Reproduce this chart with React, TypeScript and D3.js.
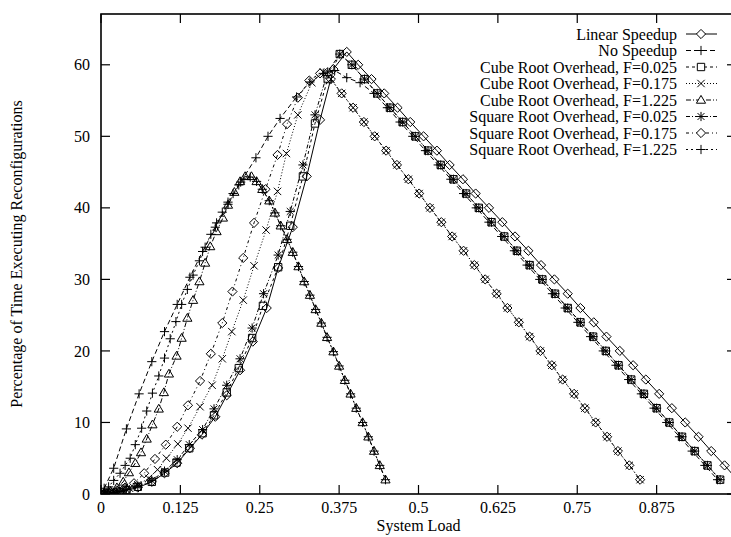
import React from "react";
import * as d3 from "d3";

// ---------- data ----------
const X_TICKS = [0, 0.125, 0.25, 0.375, 0.5, 0.625, 0.75, 0.875];
const X_TICK_LABELS = ["0", "0.125", "0.25", "0.375", "0.5", "0.625", "0.75", "0.875"];
const Y_TICKS = [0, 10, 20, 30, 40, 50, 60];
const Y_TICK_LABELS = ["0", "10", "20", "30", "40", "50", "60"];

const SERIES_NAMES = [
  "Linear Speedup",
  "No Speedup",
  "Cube Root Overhead, F=0.025",
  "Cube Root Overhead, F=0.175",
  "Cube Root Overhead, F=1.225",
  "Square Root Overhead, F=0.025",
  "Square Root Overhead, F=0.175",
  "Square Root Overhead, F=1.225",
];

// Linear Speedup
const linearSpeedup: [number, number][] = [
  [0.005, 0.02], [0.01, 0.05], [0.02, 0.15], [0.03, 0.3], [0.04, 0.5], [0.058, 0.9],
  [0.08, 1.7], [0.1, 2.9], [0.12, 4.3], [0.14, 6.4], [0.159, 8.3], [0.18, 10.8],
  [0.198, 13.8], [0.219, 17.3], [0.239, 21.3], [0.261, 26.0], [0.279, 31.6],
  [0.302, 37.3], [0.324, 44.4], [0.345, 52.3], [0.366, 59.4], [0.387, 61.8],
  [0.405, 60], [0.426, 58], [0.446, 56], [0.467, 54], [0.487, 52], [0.508, 50],
  [0.529, 48], [0.549, 46], [0.57, 44], [0.59, 42], [0.611, 40], [0.632, 38],
  [0.652, 36], [0.673, 34], [0.693, 32], [0.714, 30], [0.735, 28], [0.755, 26],
  [0.776, 24], [0.796, 22], [0.817, 20], [0.838, 18], [0.858, 16], [0.879, 14],
  [0.899, 12], [0.92, 10], [0.941, 8], [0.961, 6], [0.982, 4], [1.002, 2],
];

// No Speedup
const noSpeedup: [number, number][] = [
  [0.005, 0.8], [0.02, 3.6], [0.04, 9.1], [0.06, 14.0], [0.08, 18.5], [0.1, 22.7],
  [0.12, 26.5], [0.14, 30.3], [0.16, 33.9], [0.18, 37.3], [0.2, 40.5], [0.22, 43.6],
  [0.244, 47.0], [0.263, 50.0], [0.282, 52.5], [0.308, 55.5], [0.329, 57.6],
  [0.35, 58.8], [0.368, 59.2], [0.387, 58.2], [0.408, 57.5], [0.43, 56.0],
  [0.451, 54], [0.471, 52], [0.491, 50], [0.511, 48], [0.531, 46], [0.551, 44],
  [0.571, 42], [0.591, 40], [0.611, 38], [0.631, 36], [0.651, 34], [0.671, 32],
  [0.691, 30], [0.711, 28], [0.731, 26], [0.751, 24], [0.771, 22], [0.791, 20],
  [0.811, 18], [0.831, 16], [0.851, 14], [0.871, 12], [0.891, 10], [0.911, 8],
  [0.931, 6], [0.951, 4], [0.971, 2],
];

// shared descent of the F=0.025 curves
const descentLowF: [number, number][] = [
  [0.376, 61.5], [0.395, 60], [0.415, 58], [0.435, 56], [0.455, 54], [0.475, 52],
  [0.495, 50], [0.515, 48], [0.535, 46], [0.555, 44], [0.575, 42], [0.595, 40],
  [0.615, 38], [0.635, 36], [0.655, 34], [0.675, 32], [0.695, 30], [0.715, 28],
  [0.735, 26], [0.755, 24], [0.775, 22], [0.795, 20], [0.815, 18], [0.835, 16],
  [0.855, 14], [0.875, 12], [0.895, 10], [0.915, 8], [0.935, 6], [0.955, 4],
  [0.975, 2],
];

// shared descent of the F=0.175 curves
const descentMidF: [number, number][] = [
  [0.362, 58], [0.379, 56], [0.397, 54], [0.414, 52], [0.431, 50], [0.449, 48],
  [0.466, 46], [0.484, 44], [0.501, 42], [0.518, 40], [0.536, 38], [0.553, 36],
  [0.571, 34], [0.588, 32], [0.605, 30], [0.623, 28], [0.64, 26], [0.658, 24],
  [0.675, 22], [0.692, 20], [0.71, 18], [0.727, 16], [0.745, 14], [0.762, 12],
  [0.779, 10], [0.797, 8], [0.814, 6], [0.832, 4], [0.849, 2],
];

// shared descent of the F=1.225 curves
const descentHighF: [number, number][] = [
  [0.245, 43.7], [0.254, 42.6], [0.265, 41.0], [0.274, 39.3], [0.283, 37.5],
  [0.293, 35.6], [0.302, 33.8], [0.311, 31.8], [0.32, 29.7], [0.329, 27.8],
  [0.338, 25.8], [0.347, 23.9], [0.356, 21.9], [0.366, 19.9], [0.375, 17.9],
  [0.384, 15.9], [0.393, 14.0], [0.402, 12.0], [0.412, 10.0], [0.421, 8.0],
  [0.43, 6.0], [0.439, 4.0], [0.448, 2.0],
];

const cubeRoot0025Rise: [number, number][] = [
  [0.005, 0.03], [0.01, 0.08], [0.02, 0.18], [0.03, 0.32], [0.04, 0.55], [0.058, 1.0],
  [0.08, 1.7], [0.101, 3.0], [0.119, 4.4], [0.139, 6.4], [0.16, 8.5], [0.178, 11.0],
  [0.198, 14.2], [0.217, 17.6], [0.238, 21.8], [0.255, 26.3], [0.279, 31.7],
  [0.298, 37.5], [0.318, 44.4], [0.337, 51.8], [0.357, 58.0],
];

const cubeRoot0175Rise: [number, number][] = [
  [0.005, 0.05], [0.015, 0.15], [0.025, 0.3], [0.035, 0.5], [0.045, 0.8], [0.058, 1.3],
  [0.075, 2.2], [0.089, 3.4], [0.103, 5.0], [0.121, 7.0], [0.137, 9.2], [0.156, 12.2],
  [0.175, 15.2], [0.191, 18.9], [0.206, 22.7], [0.224, 27.1], [0.241, 31.9],
  [0.26, 36.9], [0.278, 42.3], [0.292, 47.6], [0.31, 53.0], [0.332, 57.5], [0.35, 59.0],
];

const cubeRoot1225Rise: [number, number][] = [
  [0.005, 0.1], [0.015, 0.4], [0.025, 0.9], [0.035, 1.7], [0.044, 3.0], [0.054, 4.3],
  [0.063, 5.8], [0.072, 7.7], [0.081, 9.7], [0.091, 11.9], [0.099, 14.2], [0.107, 16.8],
  [0.119, 19.3], [0.127, 21.8], [0.136, 24.6], [0.145, 27.1], [0.155, 29.7],
  [0.164, 32.3], [0.172, 34.6], [0.182, 36.7], [0.192, 38.6], [0.2, 40.4],
  [0.21, 42.2], [0.219, 43.7], [0.227, 44.4], [0.237, 44.4],
];

const squareRoot0025Rise: [number, number][] = [
  [0.005, 0.05], [0.01, 0.1], [0.02, 0.2], [0.03, 0.35], [0.04, 0.6], [0.058, 1.1],
  [0.08, 1.9], [0.1, 3.2], [0.12, 4.8], [0.139, 6.9], [0.16, 9.0], [0.178, 11.9],
  [0.198, 15.2], [0.219, 18.9], [0.238, 23.2], [0.256, 28.0], [0.279, 33.4],
  [0.298, 39.5], [0.318, 46.0], [0.337, 53.0], [0.357, 59.0],
];

const squareRoot0175Rise: [number, number][] = [
  [0.005, 0.08], [0.015, 0.25], [0.025, 0.5], [0.038, 0.9], [0.052, 1.5], [0.068, 2.9],
  [0.085, 4.9], [0.102, 6.9], [0.12, 9.4], [0.137, 12.4], [0.156, 15.8], [0.173, 19.6],
  [0.191, 23.9], [0.207, 28.3], [0.224, 33.0], [0.241, 37.9], [0.259, 42.6],
  [0.278, 47.4], [0.293, 51.7], [0.31, 55.4], [0.328, 57.8], [0.345, 58.8],
];

const squareRoot1225Rise: [number, number][] = [
  [0.005, 0.3], [0.012, 1.0], [0.02, 1.9], [0.03, 2.9], [0.038, 4.0], [0.046, 5.0],
  [0.054, 6.9], [0.064, 9.2], [0.072, 11.6], [0.081, 14.1], [0.091, 16.5], [0.1, 19.0],
  [0.109, 21.7], [0.118, 24.1], [0.127, 26.5], [0.136, 28.6], [0.145, 30.6],
  [0.155, 32.6], [0.164, 34.5], [0.173, 36.3], [0.182, 37.9], [0.191, 39.4],
  [0.2, 40.8], [0.208, 42.0], [0.217, 43.2], [0.225, 44.0], [0.235, 44.3],
];

const SERIES_DATA: [number, number][][] = [
  linearSpeedup,
  noSpeedup,
  [...cubeRoot0025Rise, ...descentLowF],
  [...cubeRoot0175Rise, ...descentMidF],
  [...cubeRoot1225Rise, ...descentHighF],
  [...squareRoot0025Rise, ...descentLowF],
  [...squareRoot0175Rise, ...descentMidF],
  [...squareRoot1225Rise, ...descentHighF],
];

// ---------- styles ----------
const MARKERS = ["diamond", "plus", "square", "cross", "triangle", "star", "diamond", "plus"];
const DASHES = ["", "5,3", "3,3", "1,2", "5,2,1,2", "4,2,1,2", "3,3,1,3", "2,3"];

const W = 731;
const H = 537;
const LEFT = 101;
const RIGHT = 736;
const TOP = 14;
const BOTTOM = 494;
const FONT = "'Liberation Serif', 'Times New Roman', serif";

function markerPath(type: string, s: number): string {
  switch (type) {
    case "diamond":
      return `M0,${-s}L${s},0L0,${s}L${-s},0Z`;
    case "plus":
      return `M${-s},0H${s}M0,${-s}V${s}`;
    case "square": {
      const a = s * 0.8;
      return `M${-a},${-a}H${a}V${a}H${-a}Z`;
    }
    case "cross": {
      const a = s * 0.8;
      return `M${-a},${-a}L${a},${a}M${-a},${a}L${a},${-a}`;
    }
    case "triangle":
      return `M0,${-s}L${s},${s * 0.7}L${-s},${s * 0.7}Z`;
    case "star": {
      const a = s * 0.75;
      return `M${-s},0H${s}M0,${-s}V${s}M${-a},${-a}L${a},${a}M${-a},${a}L${a},${-a}`;
    }
  }
  return "";
}

export default function App() {
  const x = d3.scaleLinear().domain([0, 1]).range([LEFT, RIGHT]);
  const y = d3.scaleLinear().domain([0, 67.1]).range([BOTTOM, TOP]);
  const line = d3
    .line<[number, number]>()
    .x((d) => x(d[0]))
    .y((d) => y(d[1]));

  const legendX = 677;
  const legendY0 = 34;
  const legendDy = 16.5;

  return (
    <svg
      width={W}
      height={H}
      viewBox={`0 0 ${W} ${H}`}
      style={{ position: "absolute", left: 0, top: 0, background: "#fff" }}
      fontFamily={FONT}
    >
      <defs>
        <clipPath id="plotclip">
          <rect x={LEFT} y={TOP} width={RIGHT - LEFT} height={BOTTOM - TOP} />
        </clipPath>
      </defs>
      <rect x={0} y={0} width={W} height={H} fill="#fff" />

      {/* ticks */}
      {Y_TICKS.map((t, i) => (
        <g key={"yt" + i}>
          <line x1={LEFT} x2={LEFT + 9} y1={y(t)} y2={y(t)} stroke="#000" strokeWidth={1.2} />
          <line x1={RIGHT - 9} x2={RIGHT} y1={y(t)} y2={y(t)} stroke="#000" strokeWidth={1.2} />
          <text x={LEFT - 11} y={y(t)} dy="0.35em" textAnchor="end" fontSize={16}>
            {Y_TICK_LABELS[i]}
          </text>
        </g>
      ))}
      {X_TICKS.map((t, i) => (
        <g key={"xt" + i}>
          <line x1={x(t)} x2={x(t)} y1={BOTTOM} y2={BOTTOM - 9} stroke="#000" strokeWidth={1.2} />
          <line x1={x(t)} x2={x(t)} y1={TOP} y2={TOP + 9} stroke="#000" strokeWidth={1.2} />
          <text x={x(t)} y={BOTTOM + 19} textAnchor="middle" fontSize={16}>
            {X_TICK_LABELS[i]}
          </text>
        </g>
      ))}

      {/* series */}
      <g clipPath="url(#plotclip)">
        {SERIES_DATA.map((data, si) => (
          <g key={"s" + si}>
            <path
              d={line(data) || ""}
              fill="none"
              stroke="#000"
              strokeWidth={1}
              strokeDasharray={DASHES[si] || undefined}
            />
            {data.map((d, pi) => (
              <path
                key={pi}
                d={markerPath(MARKERS[si], 4.6)}
                transform={`translate(${x(d[0])},${y(d[1])})`}
                fill="none"
                stroke="#000"
                strokeWidth={1}
              />
            ))}
          </g>
        ))}
      </g>

      {/* frame */}
      <rect
        x={LEFT}
        y={TOP}
        width={RIGHT - LEFT}
        height={BOTTOM - TOP}
        fill="none"
        stroke="#000"
        strokeWidth={1.6}
      />

      {/* legend */}
      {SERIES_NAMES.map((name, i) => {
        const ly = legendY0 + i * legendDy;
        return (
          <g key={"lg" + i}>
            <text x={legendX} y={ly} dy="0.35em" textAnchor="end" fontSize={16}>
              {name}
            </text>
            <line
              x1={686}
              x2={717}
              y1={ly}
              y2={ly}
              stroke="#000"
              strokeWidth={1}
              strokeDasharray={DASHES[i] || undefined}
            />
            <path
              d={markerPath(MARKERS[i], 4.6)}
              transform={`translate(${701},${ly})`}
              fill="#fff"
              stroke="#000"
              strokeWidth={1}
            />
          </g>
        );
      })}

      {/* axis titles */}
      <text x={(LEFT + RIGHT) / 2} y={531} textAnchor="middle" fontSize={16}>
        System Load
      </text>
      <text
        transform={`translate(16,${(TOP + BOTTOM) / 2}) rotate(-90)`}
        textAnchor="middle"
        dy="0.35em"
        fontSize={16}
      >
        Percentage of Time Executing Reconfigurations
      </text>
    </svg>
  );
}
